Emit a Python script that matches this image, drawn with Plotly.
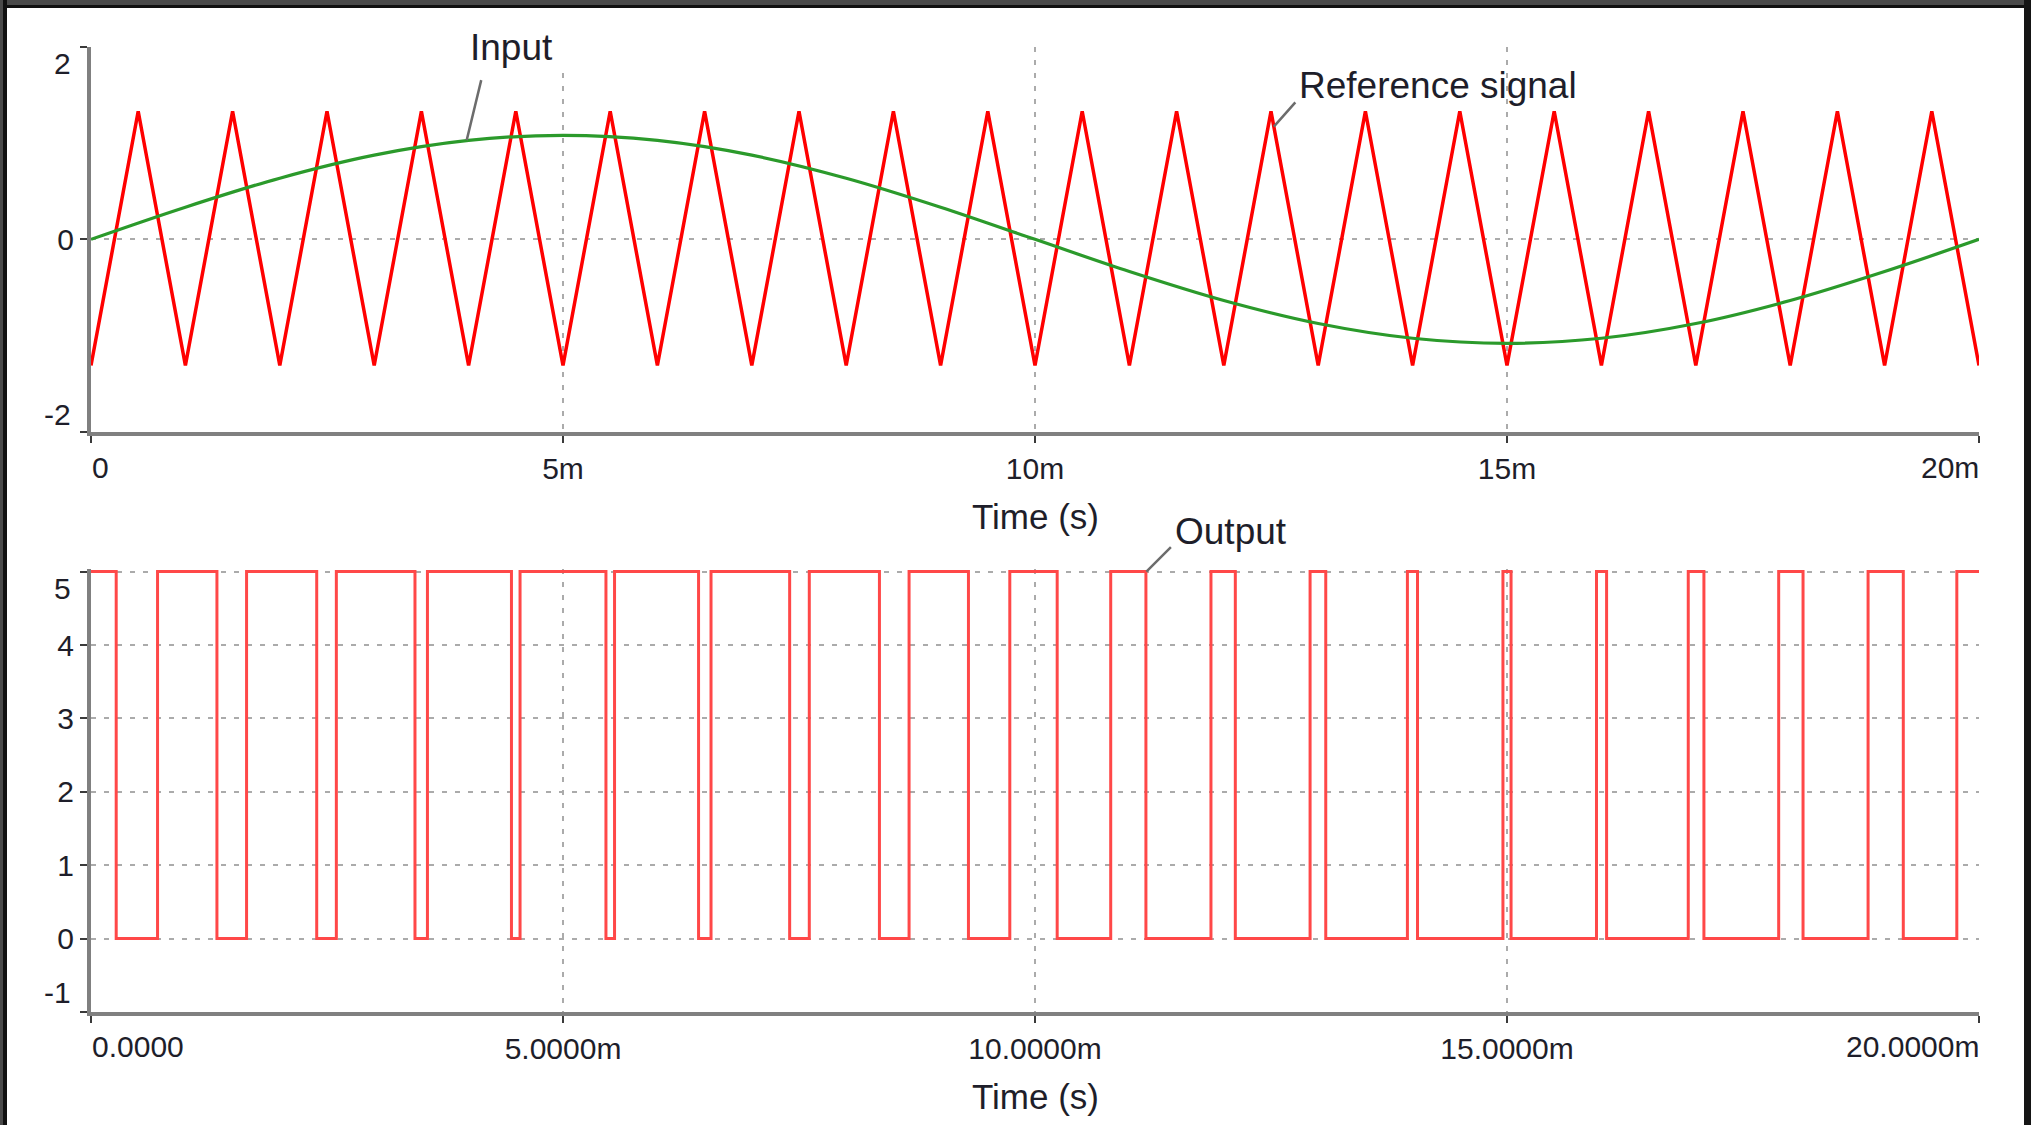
import plotly.graph_objects as go

# ---------------- data (time in ms) ----------------
tri_time_ms = [0, 0.5, 1, 1.5, 2, 2.5, 3, 3.5, 4, 4.5, 5, 5.5, 6, 6.5, 7, 7.5, 8, 8.5, 9, 9.5,
               10, 10.5, 11, 11.5, 12, 12.5, 13, 13.5, 14, 14.5, 15, 15.5, 16, 16.5, 17, 17.5,
               18, 18.5, 19, 19.5, 20]
tri_values = [-1.31, 1.33, -1.31, 1.33, -1.31, 1.33, -1.31, 1.33, -1.31, 1.33, -1.31, 1.33,
              -1.31, 1.33, -1.31, 1.33, -1.31, 1.33, -1.31, 1.33, -1.31, 1.33, -1.31, 1.33,
              -1.31, 1.33, -1.31, 1.33, -1.31, 1.33, -1.31, 1.33, -1.31, 1.33, -1.31, 1.33,
              -1.31, 1.33, -1.31, 1.33, -1.31]

ref_time_ms = [0, 1, 2, 3, 4, 5, 6, 7, 8, 9, 10, 11, 12, 13, 14, 15, 16, 17, 18, 19, 20]
ref_values = [0, 0.334, 0.635, 0.874, 1.027, 1.08, 1.027, 0.874, 0.635, 0.334, 0,
              -0.334, -0.635, -0.874, -1.027, -1.08, -1.027, -0.874, -0.635, -0.334, 0]

out_fall_ms = [0.267, 1.334, 2.391, 3.432, 4.454, 5.455, 6.436, 7.401, 8.352, 9.295,
               10.235, 11.175, 12.122, 13.080, 14.052, 15.043, 16.055, 17.086, 18.136, 19.198]
out_rise_ms = [0.705, 1.648, 2.599, 3.564, 4.545, 5.546, 6.568, 7.609, 8.666, 9.733,
               10.802, 11.864, 12.914, 13.945, 14.957, 15.948, 16.920, 17.878, 18.825, 19.765]
out_high = 5
out_low = 0

x_ticks = [0, 5, 10, 15, 20]
top_x_ticktext = ["", "5m", "10m", "15m", ""]
bot_x_ticktext = ["", "5.0000m", "10.0000m", "15.0000m", ""]
top_y_ticks = [-2, 0, 2]
top_y_ticktext = ["", "0", ""]
bot_y_ticks = [-1, 0, 1, 2, 3, 4, 5]
bot_y_ticktext = ["", "0", "1", "2", "3", "4", ""]

# output step series built from edge lists
out_t = [0]
out_v = [out_high]
for f, r in zip(out_fall_ms, out_rise_ms):
    out_t += [f, r]
    out_v += [out_low, out_high]
out_t.append(20)
out_v.append(out_high)

W, H = 2031, 1125
FONT = "Liberation Sans, Arial, sans-serif"
TXT = "#1e1e2a"
GRID = "#ababab"
AXC = "#808080"

fig = go.Figure()
fig.add_trace(go.Scatter(x=tri_time_ms, y=tri_values, mode="lines",
                         line=dict(color="#ff0000", width=3.5), xaxis="x", yaxis="y",
                         showlegend=False, hoverinfo="skip"))
fig.add_trace(go.Scatter(x=ref_time_ms, y=ref_values, mode="lines",
                         line=dict(color="#2b9a2b", width=3.2, shape="spline"),
                         xaxis="x", yaxis="y", showlegend=False, hoverinfo="skip"))
fig.add_trace(go.Scatter(x=out_t, y=out_v, mode="lines",
                         line=dict(color="#ff4848", width=3, shape="hv"),
                         xaxis="x2", yaxis="y2", showlegend=False, hoverinfo="skip"))

xdom = [91 / W, 1979 / W]
top_dom = [1 - 432 / H, 1 - 46.7 / H]
bot_dom = [1 - 1012 / H, 1 - 569.4 / H]

common_x = dict(range=[0, 20], tickvals=x_ticks, showgrid=True, gridcolor=GRID,
                gridwidth=2, griddash="5px,8px", showline=True, linecolor=AXC,
                linewidth=4, ticks="outside", ticklen=7, tickwidth=2,
                tickcolor="#3a3a3a", zeroline=False, automargin=False,
                tickfont=dict(family=FONT, size=30, color=TXT), domain=xdom,
                fixedrange=True)
common_y = dict(showgrid=True, gridcolor=GRID, gridwidth=2, griddash="5px,8px",
                showline=True, linecolor=AXC, linewidth=4, ticks="outside",
                ticklen=7, tickwidth=2, tickcolor="#3a3a3a", zeroline=False,
                automargin=False, tickfont=dict(family=FONT, size=30, color=TXT),
                fixedrange=True)

fig.update_layout(
    width=W, height=H,
    margin=dict(l=0, r=0, t=0, b=0, pad=0),
    template="none",
    paper_bgcolor="white", plot_bgcolor="white",
    font=dict(family=FONT, color=TXT),
    xaxis=dict(**common_x, ticktext=top_x_ticktext, anchor="y"),
    yaxis=dict(**common_y, range=[-2, 2], tickvals=top_y_ticks,
               ticktext=top_y_ticktext, domain=top_dom, anchor="x"),
    xaxis2=dict(**common_x, ticktext=bot_x_ticktext, anchor="y2"),
    yaxis2=dict(**common_y, range=[-1, 5.03], tickvals=bot_y_ticks,
                ticktext=bot_y_ticktext, domain=bot_dom, anchor="x2"),
    showlegend=False,
)

tf = dict(family=FONT, size=30, color=TXT)
ann = []
# white box behind the "Input" label (hides the grid there, as in the original)
ann.append(dict(text=" ", xref="x", x=3.82, yref="y", y=2, yshift=1,
                xanchor="left", yanchor="middle", showarrow=False,
                width=147, height=50, bgcolor="white", borderpad=0,
                font=dict(size=10)))
# edge tick labels (shifted inward like the original)
ann.append(dict(text="2", xref="x", x=0, yref="y", y=2, xanchor="right",
                yanchor="middle", xshift=-18, yshift=-17, showarrow=False, font=tf))
ann.append(dict(text="-2", xref="x", x=0, yref="y", y=-2, xanchor="right",
                yanchor="middle", xshift=-18, yshift=18, showarrow=False, font=tf))
ann.append(dict(text="0", xref="x", x=0, yref="y", y=-2, xanchor="left",
                yanchor="middle", xshift=-1, yshift=-35, showarrow=False, font=tf))
ann.append(dict(text="20m", xref="x", x=20, yref="y", y=-2, xanchor="right",
                yanchor="middle", xshift=2, yshift=-35, showarrow=False, font=tf))
ann.append(dict(text="5", xref="x2", x=0, yref="y2", y=5, xanchor="right",
                yanchor="middle", xshift=-18, yshift=-17, showarrow=False, font=tf))
ann.append(dict(text="-1", xref="x2", x=0, yref="y2", y=-1, xanchor="right",
                yanchor="middle", xshift=-18, yshift=20, showarrow=False, font=tf))
ann.append(dict(text="0.0000", xref="x2", x=0, yref="y2", y=-1, xanchor="left",
                yanchor="middle", xshift=-1, yshift=-34, showarrow=False, font=tf))
ann.append(dict(text="20.0000m", xref="x2", x=20, yref="y2", y=-1, xanchor="right",
                yanchor="middle", xshift=2, yshift=-34, showarrow=False, font=tf))

# axis titles
title_font = dict(family=FONT, size=35, color=TXT)
ann.append(dict(text="Time (s)", xref="x", x=10, yref="paper", y=1 - 516 / H,
                xanchor="center", yanchor="middle", showarrow=False, font=title_font))
ann.append(dict(text="Time (s)", xref="x2", x=10, yref="paper", y=1 - 1096 / H,
                xanchor="center", yanchor="middle", showarrow=False, font=title_font))

# series labels
lab_font = dict(family=FONT, size=37, color=TXT)
ann.append(dict(text="Input", xref="x", x=4.45, yref="y", y=2, yshift=-1,
                xanchor="center", yanchor="middle", showarrow=False, font=lab_font))
ann.append(dict(text="Reference signal", xref="x", x=14.27, yref="y", y=1.6,
                xanchor="center", yanchor="middle", showarrow=False, font=lab_font))
ann.append(dict(text="Output", xref="x2", x=12.08, yref="y2", y=5, yshift=40,
                xanchor="center", yanchor="middle", showarrow=False, font=lab_font))

# leader lines
lead = dict(text=" ", showarrow=True, arrowhead=0, arrowwidth=2.5,
            arrowcolor="#6c6c6c", standoff=0, startstandoff=0, font=dict(size=1))
ann.append(dict(**lead, xref="x", yref="y", x=3.98, y=1.03, ax=15, ay=-62))
ann.append(dict(**lead, xref="x", yref="y", x=12.53, y=1.17, ax=23, ay=-26))
ann.append(dict(**lead, xref="x2", yref="y2", x=11.18, y=5, ax=26, ay=-26))

fig.update_layout(annotations=ann)

# dark window frame (top, left, right)
shapes = [
    dict(type="rect", xref="paper", yref="paper", x0=0, x1=1, y0=1 - 8 / H, y1=1,
         fillcolor="#111111", line=dict(width=0), layer="above"),
    dict(type="rect", xref="paper", yref="paper", x0=0, x1=1, y0=1 - 5 / H, y1=1,
         fillcolor="#4a4a4a", line=dict(width=0), layer="above"),
    dict(type="rect", xref="paper", yref="paper", x0=0, x1=7 / W, y0=0, y1=1,
         fillcolor="#111111", line=dict(width=0), layer="above"),
    dict(type="rect", xref="paper", yref="paper", x0=0, x1=3 / W, y0=0, y1=1,
         fillcolor="#4a4a4a", line=dict(width=0), layer="above"),
    dict(type="rect", xref="paper", yref="paper", x0=1 - 7 / W, x1=1, y0=0, y1=1,
         fillcolor="#151515", line=dict(width=0), layer="above"),
]
fig.update_layout(shapes=shapes)

fig.write_html("out.html", config=dict(displayModeBar=False))
